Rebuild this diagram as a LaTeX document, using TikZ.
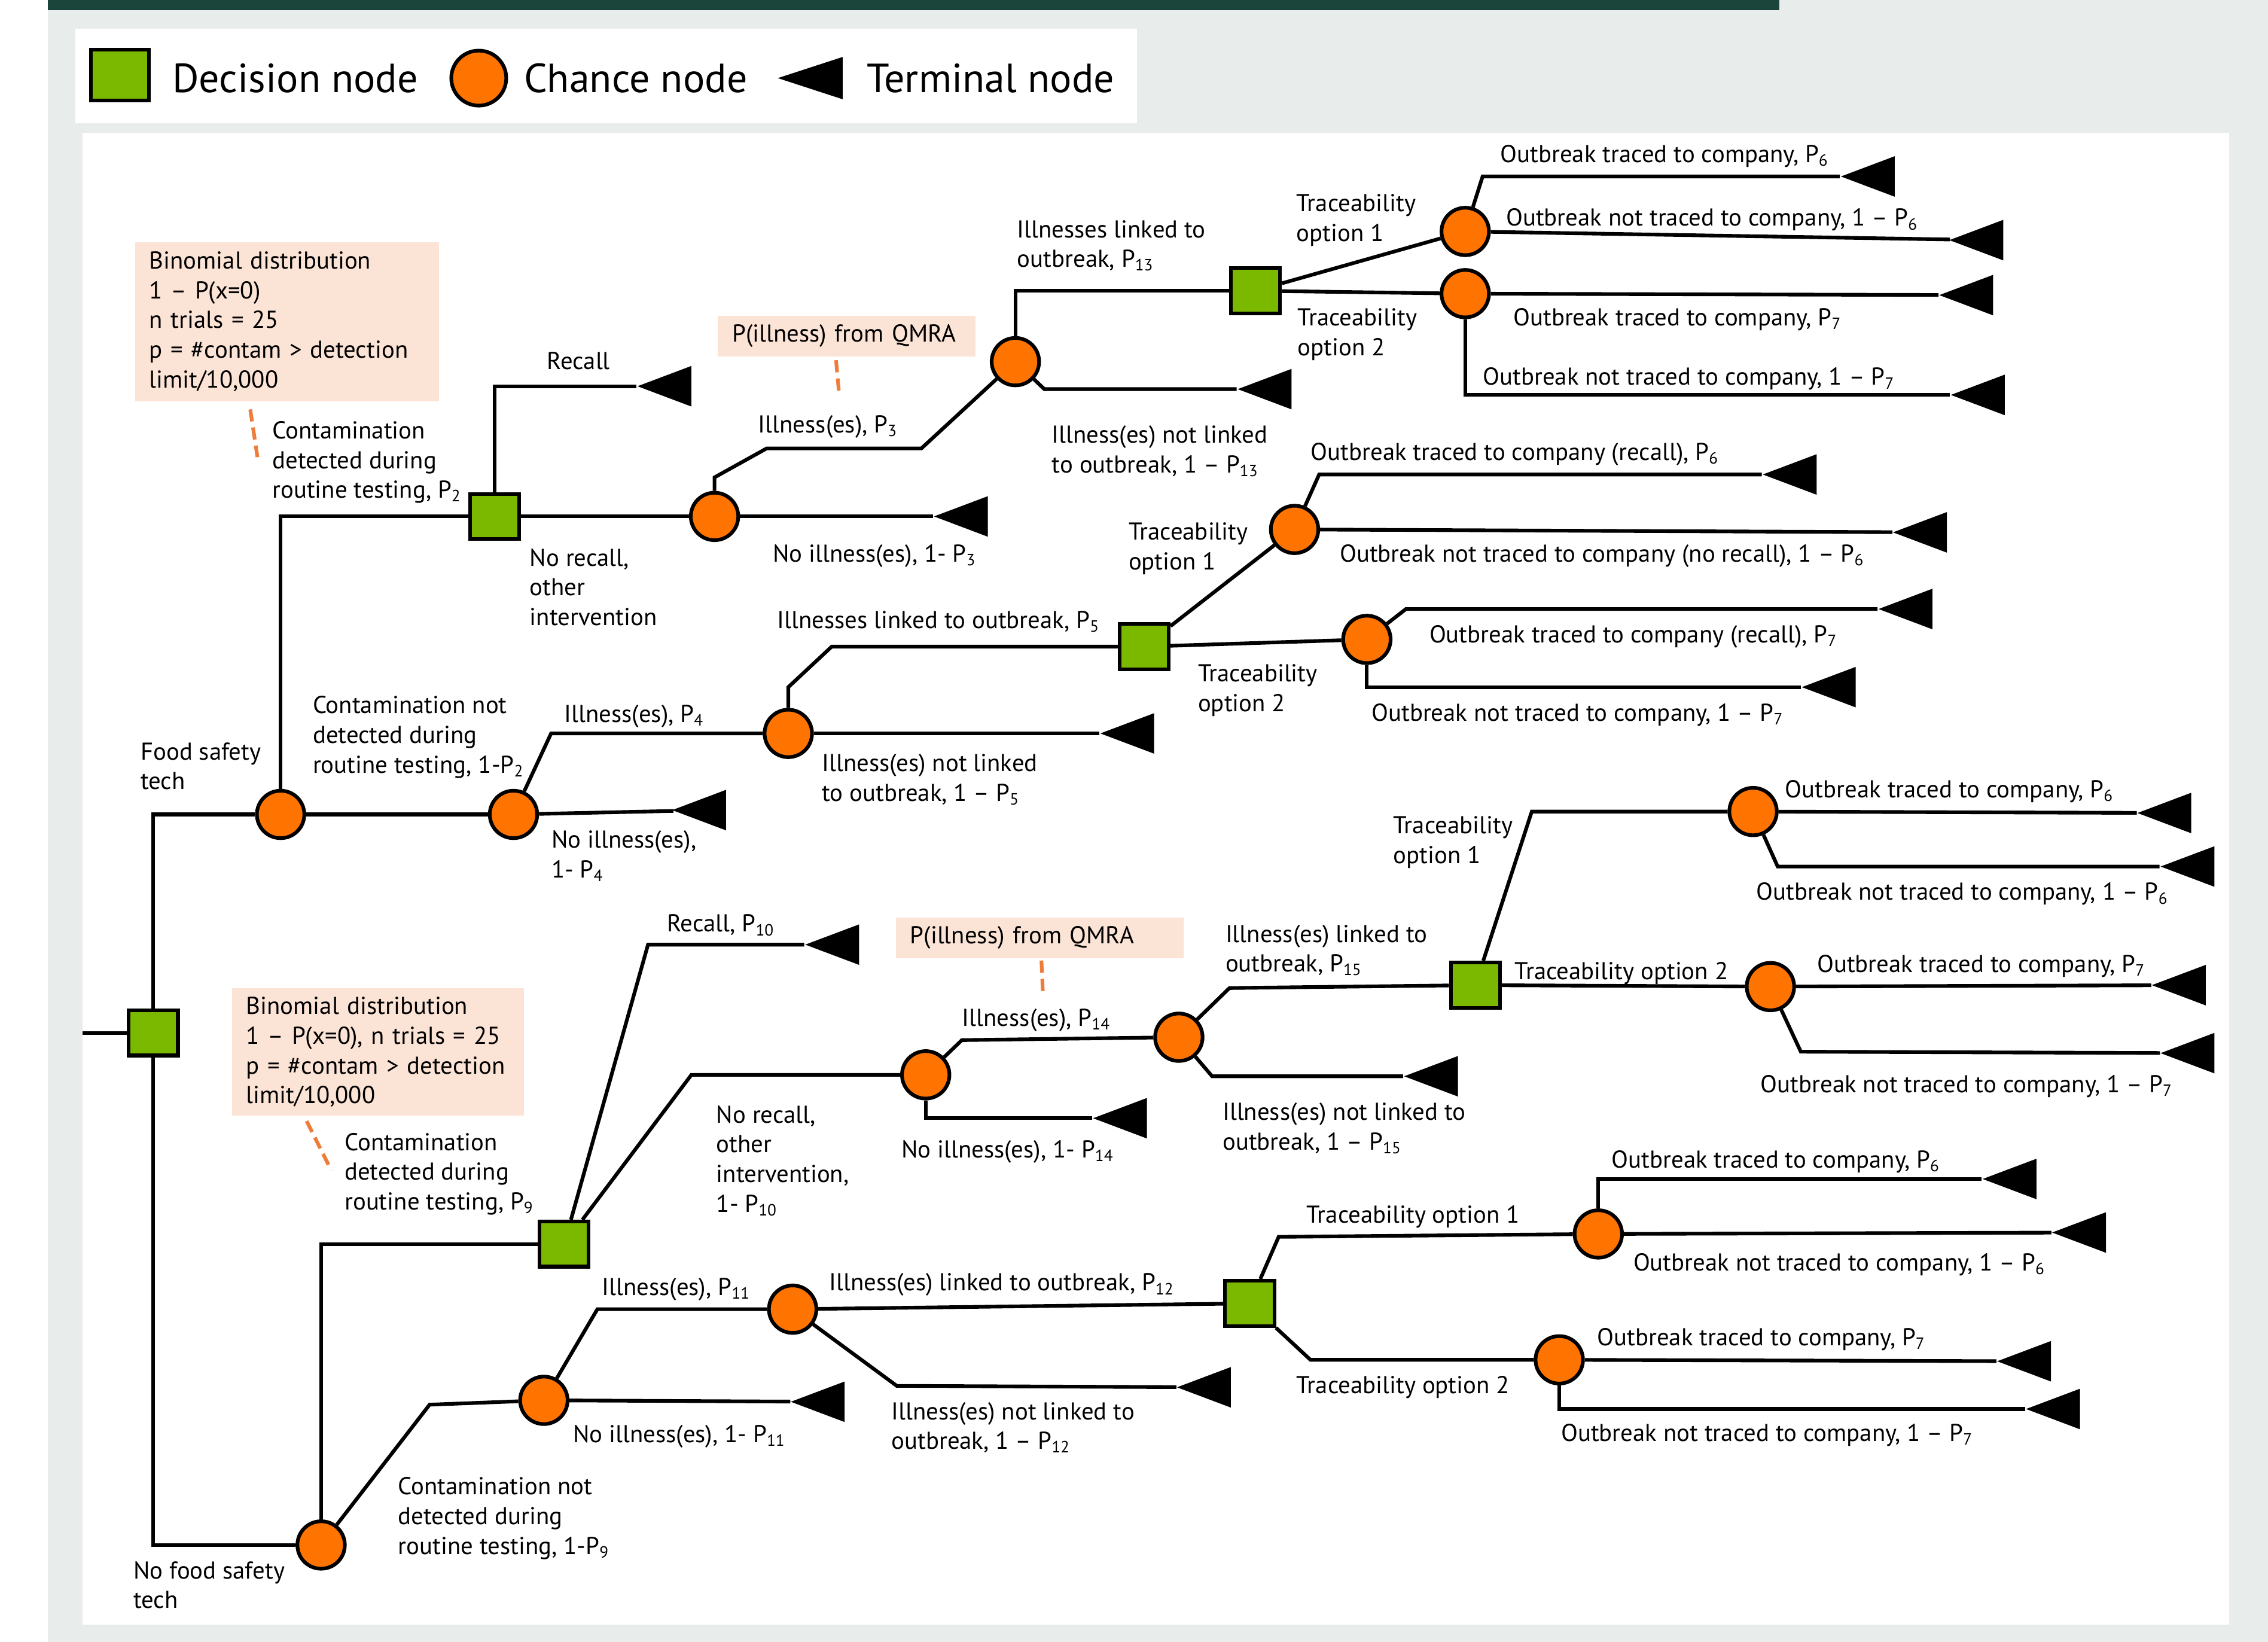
\documentclass[tikz,border=0pt]{standalone}
\usepackage{fontspec}
\setmainfont{PT Sans}
\usetikzlibrary{shapes.geometric}

\definecolor{decgreen}{RGB}{122,185,0}
\definecolor{chorange}{RGB}{255,115,0}
\definecolor{notepeach}{RGB}{251,227,214}
\definecolor{panelgray}{RGB}{232,236,235}
\definecolor{bardark}{RGB}{27,69,58}
\definecolor{leadorange}{RGB}{238,125,60}

\tikzset{
  branch/.style={line width=1.8pt},
  decision/.style={draw, line width=1.8pt, fill=decgreen, minimum width=0.85cm, minimum height=0.78cm, inner sep=0pt},
  chance/.style={draw, line width=1.8pt, fill=chorange, circle, minimum size=0.82cm, inner sep=0pt},
  terminal/.style={isosceles triangle, isosceles triangle stretches, shape border rotate=180, fill=black, minimum width=0.7cm, minimum height=0.93cm, inner sep=0pt, anchor=apex},
  lbl/.style={anchor=north west, inner sep=0pt, align=left, yshift=0.15cm, font=\fontsize{12}{14.6}\selectfont},
  note/.style={fill=notepeach, anchor=north west, inner xsep=0.25cm, inner ysep=0pt, align=left, font=\fontsize{12}{14.6}\selectfont},
  leader/.style={leadorange, line width=1.8pt, dash pattern=on 6pt off 3pt},
  legtext/.style={anchor=west, inner sep=0pt, font=\fontsize{20}{24}\selectfont},
}

\begin{document}
\begin{tikzpicture}[x=0.025cm,y=-0.025cm]
  \useasboundingbox (0,0) rectangle (1568,1135);
  % panels
  \fill[panelgray] (33,0) rectangle (1568,1135);
  \fill[bardark] (33,0) rectangle (1230,7);
  \fill[white] (52,20) rectangle (786,85);
  \fill[white] (57,92) rectangle (1541,1123);

  % legend
  \node[decision, minimum width=1cm, minimum height=0.88cm] (legD) at (83,52) {};
  \node[legtext] (legDt) at (119,54) {Decision node};
  \node[chance, minimum size=0.95cm] (legC) at (331,54) {};
  \node[legtext] (legCt) at (362,54) {Chance node};
  \node[terminal, minimum width=0.73cm, minimum height=1.12cm] (legT) at (537,54) {};
  \node[legtext] (legTt) at (599,54) {Terminal node};

  % notes
  \node[note, text width=4.75cm, minimum height=2.75cm] (binom1) at (93,167)
    {Binomial distribution\\1 -- P(x=0)\\n trials = 25\\p = \#contam > detection\\limit/10,000};
  \node[note, text width=3.95cm, minimum height=0.7cm] (qmra1) at (496,218) {P(illness) from QMRA};
  \node[note, text width=4.55cm, minimum height=2.2cm] (binom2) at (160,683)
    {Binomial distribution\\1 -- P(x=0), n trials = 25\\p = \#contam > detection\\limit/10,000};
  \node[note, text width=4.475cm, minimum height=0.7cm] (qmra2) at (619,634) {P(illness) from QMRA};
  \draw[leader] (173,283) -- (178,316);
  \draw[leader] (578,249) -- (580,271);
  \draw[leader] (212,775) -- (229,809);
  \draw[leader] (720,664) -- (721,686);

  % decision and chance nodes
  \coordinate (start) at (57,714);
  \node[decision] (d0) at (106,714) {};
  \node[chance] (cFst) at (194,563) {};
  \node[chance] (cNo) at (222,1068) {};
  \node[decision] (dDet) at (342,357) {};
  \node[chance] (c2) at (355,563) {};
  \node[chance] (c3) at (494,357) {};
  \node[chance] (c13) at (702,250) {};
  \node[decision] (d13) at (868,201) {};
  \node[chance] (c6a) at (1013,160) {};
  \node[chance] (c7a) at (1013,203) {};
  \node[chance] (c5) at (545,507) {};
  \node[decision] (d5) at (791,447) {};
  \node[chance] (c6b) at (895,366) {};
  \node[chance] (c7b) at (945,442) {};
  \node[decision] (d9) at (390,860) {};
  \node[chance] (c11) at (376,968) {};
  \node[chance] (c14) at (640,743) {};
  \node[chance] (c15) at (815,717) {};
  \node[decision] (d15) at (1020,681) {};
  \node[chance] (c6c) at (1212,561) {};
  \node[chance] (c7c) at (1224,682) {};
  \node[chance] (c12) at (548,905) {};
  \node[decision] (d12) at (864,901) {};
  \node[chance] (c6d) at (1105,853) {};
  \node[chance] (c7d) at (1078,940) {};

  % terminal nodes
  \node[terminal] (tRecall) at (440,267) {};
  \node[terminal] (t3) at (645,357) {};
  \node[terminal] (t13) at (855,269) {};
  \node[terminal] (t6a) at (1272,122) {};
  \node[terminal] (t6an) at (1347,166) {};
  \node[terminal] (t7a) at (1340,204) {};
  \node[terminal] (t7an) at (1348,273) {};
  \node[terminal] (t4) at (464,560) {};
  \node[terminal] (t5) at (760,507) {};
  \node[terminal] (t6b) at (1218,328) {};
  \node[terminal] (t6bn) at (1308,368) {};
  \node[terminal] (t7b) at (1298,421) {};
  \node[terminal] (t7bn) at (1245,475) {};
  \node[terminal] (t10) at (556,653) {};
  \node[terminal] (t14) at (755,773) {};
  \node[terminal] (t15) at (970,744) {};
  \node[terminal] (t6c) at (1477,562) {};
  \node[terminal] (t6cn) at (1493,599) {};
  \node[terminal] (t7c) at (1487,681) {};
  \node[terminal] (t7cn) at (1493,728) {};
  \node[terminal] (t11) at (546,969) {};
  \node[terminal] (t12) at (813,959) {};
  \node[terminal] (t6d) at (1370,815) {};
  \node[terminal] (t6dn) at (1418,852) {};
  \node[terminal] (t7d) at (1380,941) {};
  \node[terminal] (t7dn) at (1400,974) {};

  % branches, upper tree
  \draw[branch] (start) -- (d0);
  \draw[branch] (d0) |- (cFst);
  \draw[branch] (d0) |- (cNo);
  \draw[branch] (cFst) |- (dDet);
  \draw[branch] (cFst) -- (c2);
  \draw[branch] (dDet) |- (tRecall);
  \draw[branch] (dDet) -- (c3);
  \draw[branch] (c3) -- (494,330) -- (530,310) -- (637,310) -- (c13);
  \draw[branch] (c3) -- (t3);
  \draw[branch] (c13) |- (d13);
  \draw[branch] (c13) -- (722,269) -- (t13);
  \draw[branch] (d13) -- (c6a);
  \draw[branch] (d13) -- (c7a);
  \draw[branch] (c6a) -- (1025,122) -- (t6a);
  \draw[branch] (c6a) -- (t6an);
  \draw[branch] (c7a) -- (t7a);
  \draw[branch] (c7a) |- (t7an);
  \draw[branch] (c2) -- (381,507) -- (c5);
  \draw[branch] (c2) -- (t4);
  \draw[branch] (c5) -- (545,475) -- (575,447) -- (d5);
  \draw[branch] (c5) -- (t5);
  \draw[branch] (d5) -- (c6b);
  \draw[branch] (d5) -- (c7b);
  \draw[branch] (c6b) -- (912,328) -- (t6b);
  \draw[branch] (c6b) -- (t6bn);
  \draw[branch] (c7b) -- (972,421) -- (t7b);
  \draw[branch] (c7b) |- (t7bn);

  % branches, lower tree
  \draw[branch] (cNo) |- (d9);
  \draw[branch] (cNo) -- (297,971) -- (c11);
  \draw[branch] (d9) -- (448,653) -- (t10);
  \draw[branch] (d9) -- (478,743) -- (c14);
  \draw[branch] (c14) -- (665,719) -- (c15);
  \draw[branch] (c14) |- (t14);
  \draw[branch] (c15) -- (850,683) -- (d15);
  \draw[branch] (c15) -- (838,744) -- (t15);
  \draw[branch] (d15) -- (1059,561) -- (c6c);
  \draw[branch] (d15) -- (c7c);
  \draw[branch] (c6c) -- (t6c);
  \draw[branch] (c6c) -- (1229,599) -- (t6cn);
  \draw[branch] (c7c) -- (t7c);
  \draw[branch] (c7c) -- (1245,727) -- (t7cn);
  \draw[branch] (c11) -- (413,905) -- (c12);
  \draw[branch] (c11) -- (t11);
  \draw[branch] (c12) -- (d12);
  \draw[branch] (c12) -- (620,958) -- (t12);
  \draw[branch] (d12) -- (884,855) -- (c6d);
  \draw[branch] (d12) -- (906,940) -- (c7d);
  \draw[branch] (c6d) |- (t6d);
  \draw[branch] (c6d) -- (t6dn);
  \draw[branch] (c7d) -- (t7d);
  \draw[branch] (c7d) |- (t7dn);

  % labels, upper tree
  \node[lbl] (lFst) at (97,519) {Food safety\\tech};
  \node[lbl] (lNoFst) at (92,1085) {No food safety\\tech};
  \node[lbl] (lDet) at (188,297) {Contamination\\detected during\\routine testing, P\textsubscript{2}};
  \node[lbl] (lNotDet) at (216,487) {Contamination not\\detected during\\routine testing, 1-P\textsubscript{2}};
  \node[lbl] (lRecall) at (378,249) {Recall};
  \node[lbl] (lNoRecall) at (366,385) {No recall,\\other\\intervention};
  \node[lbl] (lIll3) at (524,293) {Illness(es), P\textsubscript{3}};
  \node[lbl] (lNoIll3) at (534,382) {No illness(es), 1- P\textsubscript{3}};
  \node[lbl] (lLink13) at (703,158) {Illnesses linked to\\outbreak, P\textsubscript{13}};
  \node[lbl] (lNoLink13) at (727,300) {Illness(es) not linked\\to outbreak, 1 -- P\textsubscript{13}};
  \node[lbl] (lTr1a) at (896,140) {Traceability\\option 1};
  \node[lbl] (lTr2a) at (897,219) {Traceability\\option 2};
  \node[lbl] (l6a) at (1037,106) {Outbreak traced to company, P\textsubscript{6}};
  \node[lbl] (l6an) at (1041,150) {Outbreak not traced to company, 1 -- P\textsubscript{6}};
  \node[lbl] (l7a) at (1046,219) {Outbreak traced to company, P\textsubscript{7}};
  \node[lbl] (l7an) at (1025,260) {Outbreak not traced to company, 1 -- P\textsubscript{7}};
  \node[lbl] (lIll4) at (390,493) {Illness(es), P\textsubscript{4}};
  \node[lbl] (lNoIll4) at (381,580) {No illness(es),\\1- P\textsubscript{4}};
  \node[lbl] (lLink5) at (537,428) {Illnesses linked to outbreak, P\textsubscript{5}};
  \node[lbl] (lNoLink5) at (568,527) {Illness(es) not linked\\to outbreak, 1 -- P\textsubscript{5}};
  \node[lbl] (lTr1b) at (780,367) {Traceability\\option 1};
  \node[lbl] (lTr2b) at (828,465) {Traceability\\option 2};
  \node[lbl] (l6b) at (906,312) {Outbreak traced to company (recall), P\textsubscript{6}};
  \node[lbl] (l6bn) at (926,382) {Outbreak not traced to company (no recall), 1 -- P\textsubscript{6}};
  \node[lbl] (l7b) at (988,438) {Outbreak traced to company (recall), P\textsubscript{7}};
  \node[lbl] (l7bn) at (948,492) {Outbreak not traced to company, 1 -- P\textsubscript{7}};

  % labels, lower tree
  \node[lbl] (lDet9) at (238,789) {Contamination\\detected during\\routine testing, P\textsubscript{9}};
  \node[lbl] (lNotDet9) at (275,1027) {Contamination not\\detected during\\routine testing, 1-P\textsubscript{9}};
  \node[lbl] (lRecall10) at (461,638) {Recall, P\textsubscript{10}};
  \node[lbl] (lNoRecall10) at (495,770) {No recall,\\other\\intervention,\\1- P\textsubscript{10}};
  \node[lbl] (lIll14) at (665,703) {Illness(es), P\textsubscript{14}};
  \node[lbl] (lNoIll14) at (623,794) {No illness(es), 1- P\textsubscript{14}};
  \node[lbl] (lLink15) at (847,645) {Illness(es) linked to\\outbreak, P\textsubscript{15}};
  \node[lbl] (lNoLink15) at (845,768) {Illness(es) not linked to\\outbreak, 1 -- P\textsubscript{15}};
  \node[lbl] (lTr1c) at (963,570) {Traceability\\option 1};
  \node[lbl] (lTr2c) at (1047,671) {Traceability option 2};
  \node[lbl] (l6c) at (1234,545) {Outbreak traced to company, P\textsubscript{6}};
  \node[lbl] (l6cn) at (1214,616) {Outbreak not traced to company, 1 -- P\textsubscript{6}};
  \node[lbl] (l7c) at (1256,666) {Outbreak traced to company, P\textsubscript{7}};
  \node[lbl] (l7cn) at (1217,749) {Outbreak not traced to company, 1 -- P\textsubscript{7}};
  \node[lbl] (lIll11) at (416,889) {Illness(es), P\textsubscript{11}};
  \node[lbl] (lNoIll11) at (396,991) {No illness(es), 1- P\textsubscript{11}};
  \node[lbl] (lLink12) at (573,886) {Illness(es) linked to outbreak, P\textsubscript{12}};
  \node[lbl] (lNoLink12) at (616,975) {Illness(es) not linked to\\outbreak, 1 -- P\textsubscript{12}};
  \node[lbl] (lTr1d) at (903,839) {Traceability option 1};
  \node[lbl] (lTr2d) at (896,957) {Traceability option 2};
  \node[lbl] (l6d) at (1114,801) {Outbreak traced to company, P\textsubscript{6}};
  \node[lbl] (l6dn) at (1129,872) {Outbreak not traced to company, 1 -- P\textsubscript{6}};
  \node[lbl] (l7d) at (1104,924) {Outbreak traced to company, P\textsubscript{7}};
  \node[lbl] (l7dn) at (1079,990) {Outbreak not traced to company, 1 -- P\textsubscript{7}};
\end{tikzpicture}
\end{document}
